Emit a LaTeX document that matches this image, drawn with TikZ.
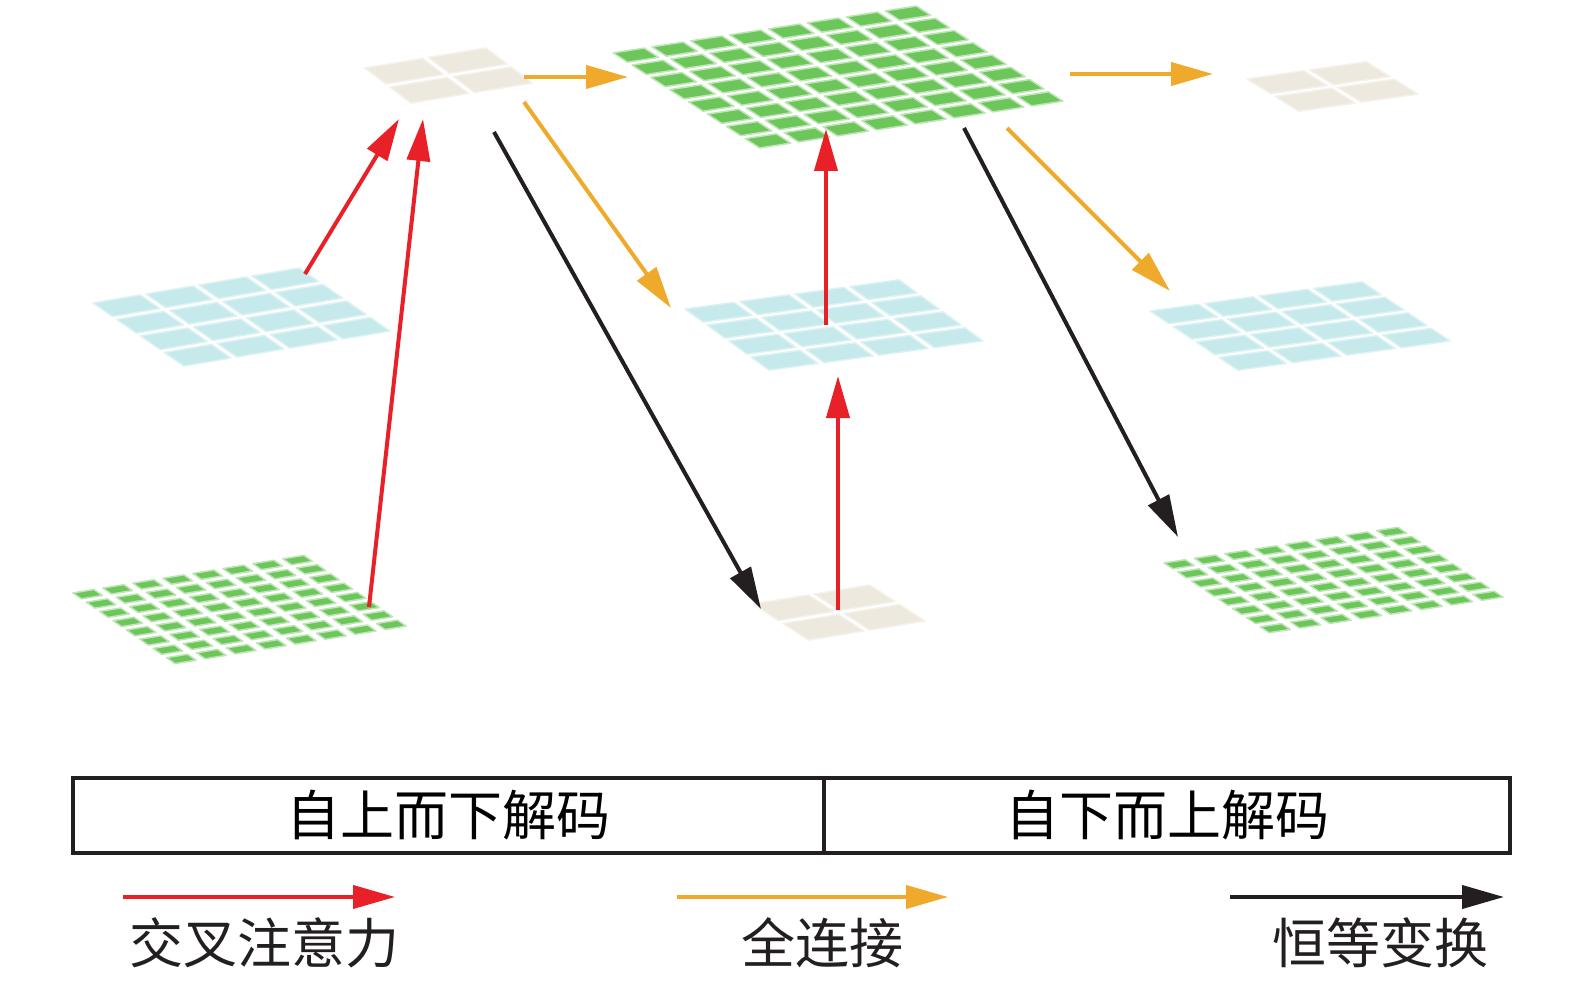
\documentclass[tikz,border=0pt]{standalone}
\usepackage{fontspec}
\newfontfamily\cjk{Noto Sans CJK SC}
\usetikzlibrary{arrows.meta}
\definecolor{cgreen}{HTML}{6CC65A}
\definecolor{cblue}{HTML}{C6E9EB}
\definecolor{cbeige}{HTML}{EDE9DE}
\definecolor{cred}{HTML}{E82129}
\definecolor{corange}{HTML}{EFAA2B}
\definecolor{cblack}{HTML}{231F20}
\def\splitgap#1,#2\relax{\def\gu{#1}\def\gv{#2}}
% #1,#2 left corner; #3,#4 top corner; #5,#6 bottom corner (pixel coords, y down); #7 n; #8 cell style; #9 gaps "gu,gv"
\newcommand\featgrid[9]{%
  \pgfmathsetmacro\gux{(#3-#1)/#7}\pgfmathsetmacro\guy{-(#4-#2)/#7}%
  \pgfmathsetmacro\gvx{(#5-#1)/#7}\pgfmathsetmacro\gvy{-(#6-#2)/#7}%
  \pgfmathtruncatemacro\gn{#7-1}%
  \splitgap#9\relax
  \begin{scope}[shift={(#1,#2)},x={(\gux pt,\guy pt)},y={(\gvx pt,\gvy pt)}]
    \foreach \i in {0,...,\gn}{\foreach \j in {0,...,\gn}{%
      \path[#8] (\i+\gu,\j+\gv) -- (\i+1-\gu,\j+\gv) -- (\i+1-\gu,\j+1-\gv) -- (\i+\gu,\j+1-\gv) -- cycle;}}
  \end{scope}}
\tikzset{
  greencell/.style={fill=cgreen, draw=cgreen!45, line width=1.5pt, line join=round},
  bluecell/.style={fill=cblue, draw=cblue!60, line width=1.5pt, line join=round},
  beigecell/.style={fill=cbeige, draw=cbeige!60, line width=1.5pt, line join=round},
  conn/.style={line width=4pt, -{Triangle[length=42pt,width=23pt]}},
  crossatt/.style={conn, draw=cred, cred},
  fullconn/.style={conn, draw=corange, corange},
  ident/.style={conn, draw=cblack, cblack},
  cellbox/.style={draw=cblack, line width=4pt, minimum height=75pt, inner sep=0pt, font=\cjk\fontsize{54}{60}\selectfont},
  legendtext/.style={inner sep=0pt, font=\cjk\fontsize{54}{60}\selectfont, text=cblack}
}
\begin{document}
\begin{tikzpicture}[x=1pt,y=-1pt]
\useasboundingbox (0,0) rectangle (1575,984);
% feature grids
\featgrid{360}{67}{487}{46}{410}{105}{2}{beigecell}{0.045,0.075}
\featgrid{88}{302}{300}{266}{183}{368}{4}{bluecell}{0.055,0.09}
\featgrid{66}{592}{306}{553}{173}{666}{8}{greencell}{0.15,0.18}
\featgrid{748}{603}{870}{583}{808}{642}{2}{beigecell}{0.045,0.075}
\featgrid{680}{308}{900}{278}{768}{372}{4}{bluecell}{0.055,0.09}
\featgrid{607}{52}{918}{4}{758}{150}{8}{greencell}{0.1,0.12}
\featgrid{1242}{78}{1367}{60}{1298}{113}{2}{beigecell}{0.045,0.075}
\featgrid{1145}{310}{1363}{280}{1237}{372}{4}{bluecell}{0.055,0.09}
\featgrid{1157}{562}{1400}{525}{1267}{635}{8}{greencell}{0.15,0.18}
% connector end points
\coordinate (a1s) at (305,274); \coordinate (a1e) at (399,119);
\coordinate (a2s) at (369,607); \coordinate (a2e) at (423,119);
\coordinate (a3s) at (826,325); \coordinate (a3e) at (826,129);
\coordinate (a4s) at (838,610); \coordinate (a4e) at (838,376);
\coordinate (o1s) at (524,77);  \coordinate (o1e) at (628,77);
\coordinate (o2s) at (524,102); \coordinate (o2e) at (671,308);
\coordinate (o3s) at (1070,74); \coordinate (o3e) at (1213,74);
\coordinate (o4s) at (1007,128); \coordinate (o4e) at (1170,291);
\coordinate (k1s) at (494,132); \coordinate (k1e) at (761,609);
\coordinate (k2s) at (964,128); \coordinate (k2e) at (1178,537);
\draw[crossatt] (a1s) -- (a1e);
\draw[crossatt] (a2s) -- (a2e);
\draw[crossatt] (a3s) -- (a3e);
\draw[crossatt] (a4s) -- (a4e);
\draw[fullconn] (o1s) -- (o1e);
\draw[fullconn] (o2s) -- (o2e);
\draw[fullconn] (o3s) -- (o3e);
\draw[fullconn] (o4s) -- (o4e);
\draw[ident] (k1s) -- (k1e);
\draw[ident] (k2s) -- (k2e);
% phase box
\node[cellbox, minimum width=751pt] (td) at (448.5,815.5) {自上而下解码};
\node[cellbox, minimum width=686pt] (bu) at (1167,815.5) {自下而上解码};
% legend
\coordinate (lr1) at (123,897); \coordinate (lr2) at (395,897);
\coordinate (lo1) at (677,897); \coordinate (lo2) at (948,897);
\coordinate (lk1) at (1230,897); \coordinate (lk2) at (1504,897);
\draw[crossatt] (lr1) -- (lr2);
\draw[fullconn] (lo1) -- (lo2);
\draw[ident] (lk1) -- (lk2);
\node[legendtext] (lt1) at (264,943) {交叉注意力};
\node[legendtext] (lt2) at (822,943) {全连接};
\node[legendtext] (lt3) at (1380,943) {恒等变换};
\end{tikzpicture}
\end{document}
